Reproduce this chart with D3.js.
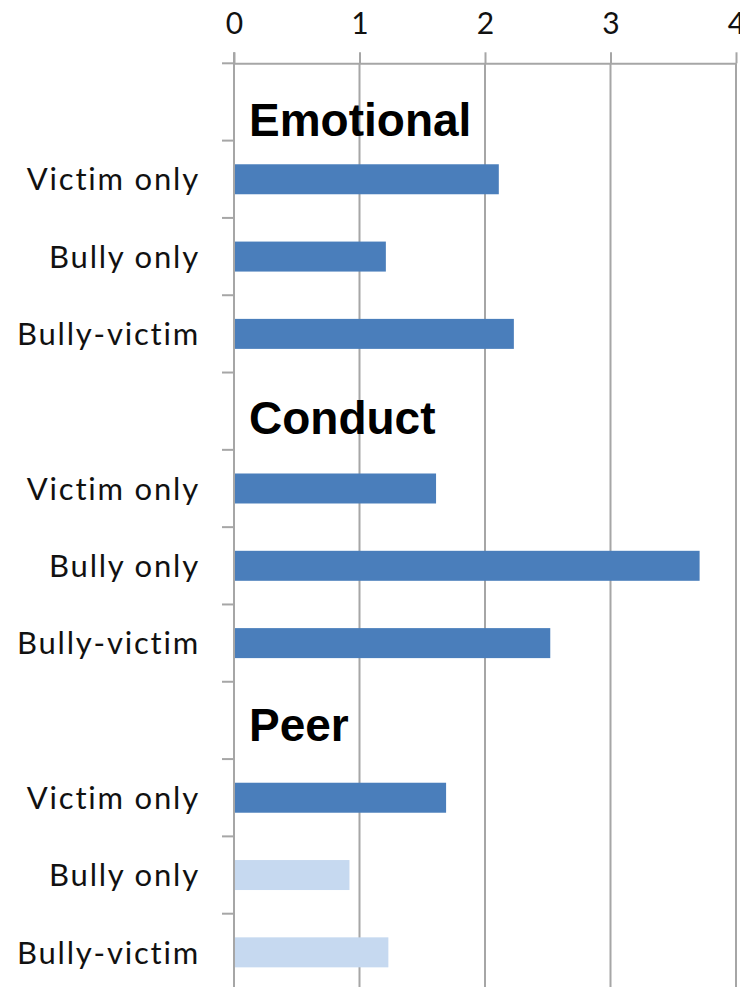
<!DOCTYPE html>
<html>
<head>
<meta charset="utf-8">
<script src="https://cdn.jsdelivr.net/npm/d3@7"></script>
<style>
  body { margin: 0; background: #fff; }
  svg { display: block; }
</style>
</head>
<body>
<div id="chart"></div>
<script>
// scores per group, in the order of the roles below
const groups = ['Emotional', 'Conduct', 'Peer'];
const roles = ['Victim only', 'Bully only', 'Bully-victim'];
const emotional = [2.11, 1.21, 2.23];
const conduct = [1.61, 3.71, 2.52];
const peer = [1.69, 0.92, 1.23];
// false = drawn in the pale colour
const significant = [
    [true, true, true],
    [true, true, true],
    [true, false, false]
];
const xTicks = [0, 1, 2, 3, 4];

const W = 740, H = 987;
const plot = { left: 234, right: 736, top: 63.3, bottom: 991 };
const headerDrop = [73, 61, 59]; // baseline of the group titles inside their slot

const series = [emotional, conduct, peer];

// one header slot then one slot per role, for each group
const rows = [];
groups.forEach((g, gi) => {
    rows.push({ id: g, group: g, header: true });
    roles.forEach((r, ri) => {
        rows.push({ id: g + '|' + r, role: r, value: series[gi][ri], sig: significant[gi][ri] });
    });
});

const svg = d3.select('#chart')
    .append('svg')
    .attr('width', W)
    .attr('height', H);

svg.append('rect').attr('width', W).attr('height', H).attr('fill', '#fff');

const x = d3.scaleLinear()
    .domain([0, 4])
    .range([plot.left, plot.right]);

const slot = d3.scaleBand()
    .domain(rows.map(d => d.id))
    .range([plot.top, plot.bottom])
    .padding(0);

const y = d3.scaleBand()
    .domain(rows.map(d => d.id))
    .range([plot.top, plot.bottom])
    .paddingInner(0.612)
    .paddingOuter(0.306);

const gridColor = '#a6a6a6';

// vertical gridlines
svg.append('g')
    .selectAll('line')
    .data(xTicks.slice(1))
    .enter()
    .append('line')
    .attr('x1', d => x(d)).attr('x2', d => x(d))
    .attr('y1', plot.top).attr('y2', H)
    .attr('stroke', gridColor)
    .attr('stroke-width', 2);

// value axis on top
const xAxis = svg.append('g')
    .attr('transform', `translate(0,${plot.top})`)
    .call(d3.axisTop(x).tickValues(xTicks).tickFormat(d3.format('d'))
        .tickSize(11).tickSizeOuter(0).tickPadding(18));
xAxis.select('.domain').attr('stroke', gridColor).attr('stroke-width', 2);
xAxis.selectAll('.tick line').attr('stroke', gridColor).attr('stroke-width', 2);
xAxis.selectAll('.tick text')
    .attr('fill', '#111')
    .style('font-family', 'Lato, "Noto Sans", sans-serif')
    .style('font-size', '30px');

// category tick marks at slot boundaries
svg.append('g')
    .selectAll('line')
    .data(rows)
    .enter()
    .append('line')
    .attr('x1', plot.left - 12).attr('x2', plot.left)
    .attr('y1', d => slot(d.id)).attr('y2', d => slot(d.id))
    .attr('stroke', gridColor)
    .attr('stroke-width', 2);

// category axis line
svg.append('line')
    .attr('x1', plot.left).attr('x2', plot.left)
    .attr('y1', plot.top - 11).attr('y2', H)
    .attr('stroke', gridColor)
    .attr('stroke-width', 2);

// role labels
const yAxis = svg.append('g')
    .attr('transform', `translate(${plot.left},0)`)
    .call(d3.axisLeft(y)
        .tickFormat(id => (rows.find(r => r.id === id).role || ''))
        .tickSize(0).tickPadding(34));
yAxis.select('.domain').remove();
yAxis.selectAll('.tick text')
    .attr('dy', '0.36em')
    .attr('fill', '#111')
    .style('font-family', 'Lato, "Noto Sans", sans-serif')
    .style('font-size', '31px')
    .style('letter-spacing', '1.8px');

// bars
svg.append('g')
    .selectAll('rect')
    .data(rows.filter(d => !d.header))
    .enter()
    .append('rect')
    .attr('x', x(0) + 1)
    .attr('y', d => y(d.id))
    .attr('width', d => x(d.value) - x(0) - 1)
    .attr('height', y.bandwidth())
    .attr('fill', d => d.sig ? '#4a7ebb' : '#c6d9f0');

// group titles
svg.append('g')
    .selectAll('text')
    .data(rows.filter(d => d.header))
    .enter()
    .append('text')
    .attr('x', x(0) + 15)
    .attr('y', (d, i) => slot(d.id) + headerDrop[i])
    .attr('fill', '#000')
    .style('font-family', '"Liberation Sans", Arial, sans-serif')
    .style('font-weight', 'bold')
    .style('font-size', '46px')
    .text(d => d.group);
</script>
</body>
</html>
